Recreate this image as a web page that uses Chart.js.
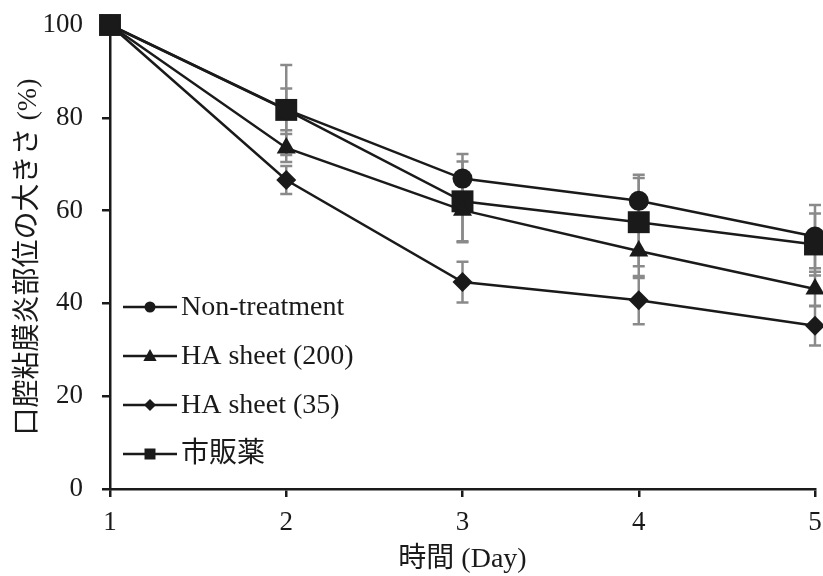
<!DOCTYPE html>
<html>
<head>
<meta charset="utf-8">
<script src="https://cdn.jsdelivr.net/npm/chart.js@4/dist/chart.umd.min.js"></script>
<style>
  html, body { margin: 0; padding: 0; background: #fff; }
  #wrap { width: 823px; height: 576px; }
</style>
</head>
<body>
<div id="wrap"><canvas id="c" width="823" height="576"></canvas></div>
<script>
// Days of observation
const days = [1, 2, 3, 4, 5];

// Relative lesion size (%) per group, with standard deviations
const nonTreatment = [100, 81.8, 66.9, 62.1, 54.4];
const nonTreatmentErr = [0, 4.5, 5.3, 5.6, 6.8];

const haSheet200 = [100, 73.5, 60.1, 51.3, 43.1];
const haSheet200Err = [0, 3.0, 6.9, 5.8, 3.7];

const haSheet35 = [100, 66.6, 44.6, 40.7, 35.2];
const haSheet35Err = [0, 3.0, 4.4, 5.2, 4.3];

const commercial = [100, 81.7, 62.0, 57.5, 52.7];
const commercialErr = [0, 9.7, 8.6, 9.5, 6.7];

const seriesNames = ['Non-treatment', 'HA sheet (200)', 'HA sheet (35)', '市販薬'];
const yTicks = [0, 20, 40, 60, 80, 100];

const FONT = "'Liberation Serif', 'Times New Roman', 'Noto Sans CJK JP', serif";

function toPoints(values) {
  return days.map((d, i) => ({ x: d, y: values[i] }));
}

// Vertical error bars with caps, drawn beneath the lines and markers
const errorBars = {
  id: 'errorBars',
  beforeDatasetsDraw(chart) {
    const { ctx, scales: { x, y } } = chart;
    ctx.save();
    ctx.strokeStyle = '#8a8a8a';
    ctx.lineWidth = 2.5;
    chart.data.datasets.forEach(ds => {
      (ds.errors || []).forEach((e, i) => {
        if (!e) return;
        const px = x.getPixelForValue(days[i]);
        const top = y.getPixelForValue(ds.data[i].y + e);
        const bot = y.getPixelForValue(ds.data[i].y - e);
        ctx.beginPath();
        ctx.moveTo(px, top); ctx.lineTo(px, bot);
        ctx.moveTo(px - 6, top); ctx.lineTo(px + 6, top);
        ctx.moveTo(px - 6, bot); ctx.lineTo(px + 6, bot);
        ctx.stroke();
      });
    });
    ctx.restore();
  }
};

function marker(ctx, style, cx, cy, r) {
  ctx.beginPath();
  if (style === 'circle') {
    ctx.arc(cx, cy, r, 0, Math.PI * 2);
  } else if (style === 'triangle') {
    ctx.moveTo(cx, cy - r);
    ctx.lineTo(cx + r * 0.95, cy + r * 0.7);
    ctx.lineTo(cx - r * 0.95, cy + r * 0.7);
    ctx.closePath();
  } else if (style === 'rectRot') {
    ctx.moveTo(cx, cy - r); ctx.lineTo(cx + r, cy);
    ctx.lineTo(cx, cy + r); ctx.lineTo(cx - r, cy);
    ctx.closePath();
  } else {
    ctx.rect(cx - r, cy - r, 2 * r, 2 * r);
  }
  ctx.fill();
}

// Legend inside the plot: line with marker, then the series name
const insideLegend = {
  id: 'insideLegend',
  afterDatasetsDraw(chart, args, opts) {
    const { ctx } = chart;
    ctx.save();
    ctx.font = '28px ' + FONT;
    ctx.textBaseline = 'middle';
    ctx.textAlign = 'left';
    chart.data.datasets.forEach((ds, i) => {
      const yy = opts.top + i * opts.gap;
      ctx.strokeStyle = '#1a1a1a';
      ctx.fillStyle = '#1a1a1a';
      ctx.lineWidth = 2.5;
      ctx.beginPath();
      ctx.moveTo(opts.x0, yy); ctx.lineTo(opts.x1, yy);
      ctx.stroke();
      marker(ctx, ds.pointStyle, (opts.x0 + opts.x1) / 2, yy, opts.sizes[i]);
      ctx.fillText(ds.label, opts.x1 + 4, yy + 1);
    });
    ctx.restore();
  }
};

const common = {
  borderColor: '#1a1a1a',
  backgroundColor: '#1a1a1a',
  pointBackgroundColor: '#1a1a1a',
  pointBorderColor: '#1a1a1a',
  borderWidth: 2.5,
  pointBorderWidth: 0,
  tension: 0,
  clip: false
};

new Chart(document.getElementById('c'), {
  type: 'line',
  data: {
    datasets: [
      { ...common, label: seriesNames[0], data: toPoints(nonTreatment), errors: nonTreatmentErr, pointStyle: 'circle', pointRadius: 10 },
      { ...common, label: seriesNames[1], data: toPoints(haSheet200), errors: haSheet200Err, pointStyle: 'triangle', pointRadius: 11 },
      { ...common, label: seriesNames[2], data: toPoints(haSheet35), errors: haSheet35Err, pointStyle: 'rectRot', pointRadius: 10 },
      { ...common, label: seriesNames[3], data: toPoints(commercial), errors: commercialErr, pointStyle: 'rect', pointRadius: 15.5 }
    ]
  },
  options: {
    responsive: false,
    animation: false,
    devicePixelRatio: 1,
    layout: { autoPadding: false, padding: { left: 0, right: 8, top: 25, bottom: 0 } },
    plugins: {
      legend: { display: false },
      tooltip: { enabled: false },
      insideLegend: { x0: 123, x1: 177, top: 307, gap: 49, sizes: [5.5, 7, 6, 5.5] }
    },
    scales: {
      x: {
        type: 'linear',
        min: 1, max: 5,
        afterFit(s) { s.height = 87; s.paddingLeft = 0; s.paddingRight = 0; },
        border: { display: true, color: '#1a1a1a', width: 2.5 },
        grid: { display: true, drawOnChartArea: false, drawTicks: true, tickLength: 8, color: '#1a1a1a', lineWidth: 2.5 },
        ticks: { stepSize: 1, padding: 10, color: '#1a1a1a', font: { family: FONT, size: 27 } },
        title: { display: true, text: '時間 (Day)', color: '#1a1a1a', font: { family: FONT, size: 28 }, padding: { top: 0, bottom: 0 } }
      },
      y: {
        min: 0, max: 100,
        afterFit(s) { s.width = 110; s.paddingTop = 0; s.paddingBottom = 0; },
        afterBuildTicks(s) { s.ticks = yTicks.map(v => ({ value: v })); },
        border: { display: true, color: '#1a1a1a', width: 2.5 },
        grid: { display: true, drawOnChartArea: false, drawTicks: true, tickLength: 8, color: '#1a1a1a', lineWidth: 2.5 },
        ticks: { padding: 19, color: '#1a1a1a', font: { family: FONT, size: 27 } },
        title: { display: true, text: '口腔粘膜炎部位の大きさ (%)', color: '#1a1a1a', font: { family: FONT, size: 28 }, padding: { top: 12, bottom: 0 } }
      }
    }
  },
  plugins: [errorBars, insideLegend]
});
</script>
</body>
</html>
